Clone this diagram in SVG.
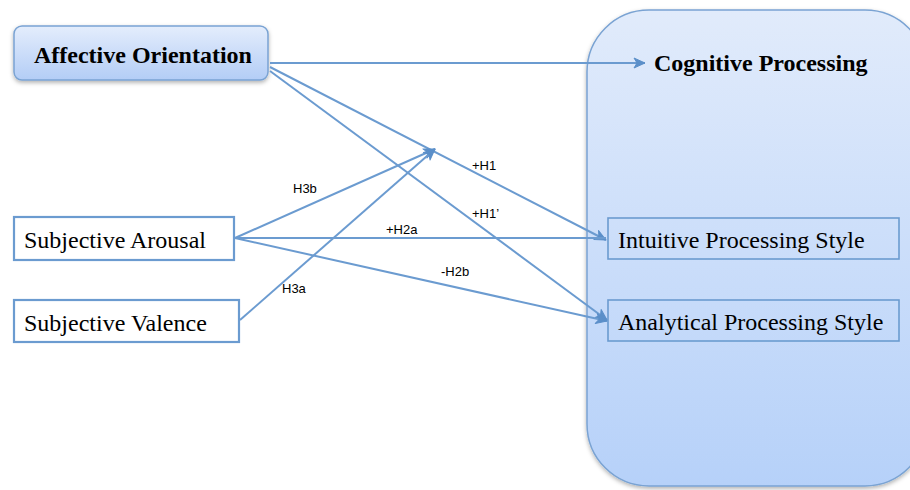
<svg xmlns="http://www.w3.org/2000/svg" width="910" height="490" viewBox="0 0 910 490">
<defs>
<linearGradient id="gBig" x1="0" y1="0" x2="0" y2="1">
<stop offset="0" stop-color="#e1ebfb"/>
<stop offset="1" stop-color="#b6d1f9"/>
</linearGradient>
<linearGradient id="gAO" x1="0" y1="0" x2="0" y2="1">
<stop offset="0" stop-color="#e4edfc"/>
<stop offset="1" stop-color="#b3cdf6"/>
</linearGradient>
<filter id="sh" x="-10%" y="-10%" width="120%" height="130%">
<feDropShadow dx="0" dy="2" stdDeviation="2" flood-color="#000" flood-opacity="0.3"/>
</filter>
<marker id="arr" markerWidth="14" markerHeight="12" refX="12" refY="6" orient="auto" markerUnits="userSpaceOnUse">
<path d="M1,1 L12,6 L1,11 L4,6 Z" fill="#5b8fc9" stroke="#5b8fc9" stroke-width="1" stroke-linejoin="round"/>
</marker>
</defs>
<style>
.box{fill:#ffffff;stroke:#6b9bd0;stroke-width:2.2}
.conn{stroke:#6b9bd0;stroke-width:2;fill:none}
.lbl{font-family:"Liberation Sans",Arial,sans-serif;font-size:13px;fill:#000}
.nt{font-family:"Liberation Serif","Times New Roman",serif;font-size:24px;fill:#000}
.bt{font-family:"Liberation Serif","Times New Roman",serif;font-size:24px;font-weight:bold;fill:#000}
</style>
<rect width="910" height="490" fill="#ffffff"/>
<g id="cognitive-processing">
<rect x="587" y="10" width="340" height="476" rx="62" ry="62" fill="url(#gBig)" stroke="#7aa3d3" stroke-width="1.5" filter="url(#sh)"/>
<text class="bt" x="654" y="71">Cognitive Processing</text>
</g>
<g id="affective-orientation">
<rect x="14" y="26" width="254" height="54" rx="8" ry="8" fill="url(#gAO)" stroke="#7aa3d3" stroke-width="1.5" filter="url(#sh)"/>
<text class="bt" x="34" y="63">Affective Orientation</text>
</g>
<g id="subjective-arousal">
<rect class="box" x="14" y="217" width="220" height="43"/>
<text class="nt" x="24" y="248">Subjective Arousal</text>
</g>
<g id="subjective-valence">
<rect class="box" x="14" y="300" width="225" height="42"/>
<text class="nt" x="24" y="331">Subjective Valence</text>
</g>
<g id="intuitive-processing-style">
<rect x="608" y="218" width="291" height="41" fill="none" stroke="#6b9bd0" stroke-width="1.6"/>
<text class="nt" x="618" y="248">Intuitive Processing Style</text>
</g>
<g id="analytical-processing-style">
<rect x="608" y="300" width="291" height="41" fill="none" stroke="#6b9bd0" stroke-width="1.6"/>
<text class="nt" x="618" y="330">Analytical Processing Style</text>
</g>
<g id="connectors">
<line class="conn" x1="270" y1="63" x2="645" y2="63" marker-end="url(#arr)"/>
<line class="conn" x1="270" y1="67" x2="606" y2="240" marker-end="url(#arr)"/>
<line class="conn" x1="270" y1="71" x2="607" y2="320" marker-end="url(#arr)"/>
<line class="conn" x1="235" y1="238" x2="435" y2="149" marker-end="url(#arr)"/>
<line class="conn" x1="240" y1="320" x2="435" y2="149" marker-end="url(#arr)"/>
<line class="conn" x1="235" y1="238" x2="606" y2="238"/>
<line class="conn" x1="235" y1="238" x2="607" y2="321" marker-end="url(#arr)"/>
<text class="lbl" x="293" y="193">H3b</text>
<text class="lbl" x="472" y="170">+H1</text>
<text class="lbl" x="472" y="218">+H1’</text>
<text class="lbl" x="386" y="234">+H2a</text>
<text class="lbl" x="441" y="276">-H2b</text>
<text class="lbl" x="282" y="293">H3a</text>
</g>
</svg>
